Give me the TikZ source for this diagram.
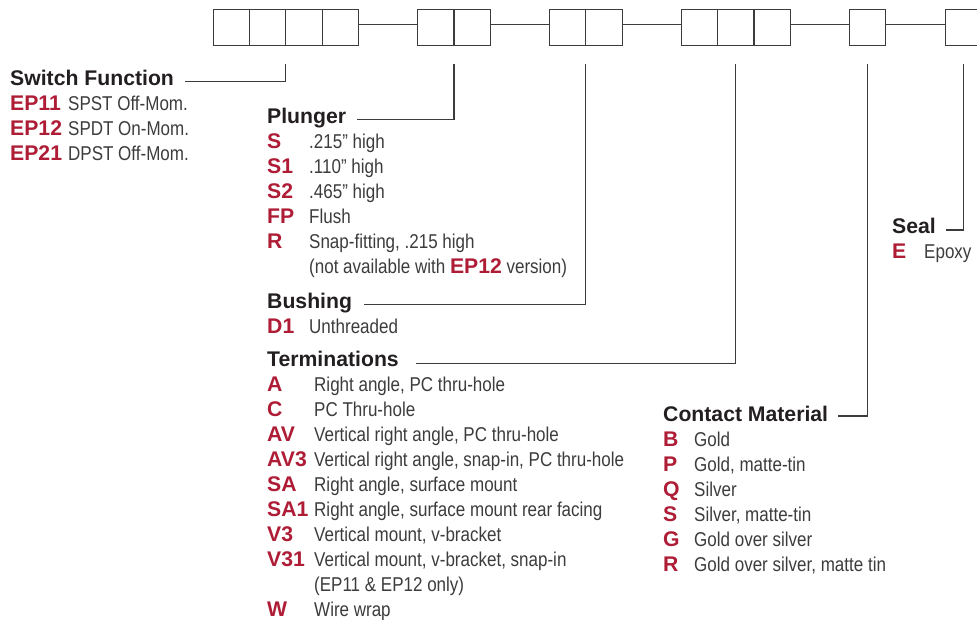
\documentclass[tikz,border=0pt]{standalone}
\usepackage{fontspec}
\setmainfont{Liberation Sans}
\newfontfamily\condfont[FakeStretch=0.85]{Liberation Sans}
\usepackage{tikz}
\usetikzlibrary{positioning}
\definecolor{codered}{RGB}{174,28,54}
\definecolor{headblack}{RGB}{35,31,32}
\definecolor{descgray}{RGB}{60,60,60}
\definecolor{linegray}{RGB}{60,60,60}
\newcommand{\boldsz}[0]{\fontsize{21.2}{24}\selectfont\bfseries}
\newcommand{\textsz}[0]{\condfont\fontsize{20}{24}\selectfont}
\tikzset{
  cell/.style={draw=linegray, line width=1.1pt, minimum width=36.2pt, minimum height=36.4pt, inner sep=0pt, outer sep=0pt},
  leader/.style={draw=linegray, line width=1.1pt},
  keyhead/.style={anchor=base west, inner sep=0pt, font=\boldsz, text=headblack},
  keycode/.style={anchor=base west, inner sep=0pt, font=\boldsz, text=codered},
  keytext/.style={anchor=base west, inner sep=0pt, font=\textsz, text=descgray}
}

\begin{document}
\begin{tikzpicture}[x=1pt, y=-1pt]
\useasboundingbox (0,0) rectangle (977,619);
% part number boxes
\node[cell] (a1) at (231.6,27.5) {};
\node[cell, right=0pt of a1] (a2) {};
\node[cell, right=0pt of a2] (a3) {};
\node[cell, right=0pt of a3] (a4) {};
\node[cell, right=59.5pt of a4] (b1) {};
\node[cell, right=0pt of b1] (b2) {};
\node[cell, right=59.5pt of b2] (c1) {};
\node[cell, right=0pt of c1] (c2) {};
\node[cell, right=59.5pt of c2] (d1) {};
\node[cell, right=0pt of d1] (d2) {};
\node[cell, right=0pt of d2] (d3) {};
\node[cell, right=59.5pt of d3] (e1) {};
\node[cell, right=59.5pt of e1] (f1) {};
\draw[leader] ([yshift=3pt]a4.east) -- ([yshift=3pt]b1.west);
\draw[leader] ([yshift=3pt]b2.east) -- ([yshift=3pt]c1.west);
\draw[leader] ([yshift=3pt]c2.east) -- ([yshift=3pt]d1.west);
\draw[leader] ([yshift=3pt]d3.east) -- ([yshift=3pt]e1.west);
\draw[leader] ([yshift=3pt]e1.east) -- ([yshift=3pt]f1.west);

% switch function
\node[keyhead] (hSwitch) at (10,85) {Switch Function};
\node[keycode] (fEP11) at (10,110) {EP11};
\node[keytext] (fEP11d) at (68,110) {SPST Off-Mom.};
\node[keycode] (fEP12) at (10,135) {EP12};
\node[keytext] (fEP12d) at (68,135) {SPDT On-Mom.};
\node[keycode] (fEP21) at (10,160) {EP21};
\node[keytext] (fEP21d) at (68,160) {DPST Off-Mom.};

% plunger
\node[keyhead] (hPlunger) at (267,123) {Plunger};
\node[keycode] (pS) at (267,148) {S};
\node[keytext] (pSd) at (309,148) {.215” high};
\node[keycode] (pS1) at (267,173) {S1};
\node[keytext] (pS1d) at (309,173) {.110” high};
\node[keycode] (pS2) at (267,198) {S2};
\node[keytext] (pS2d) at (309,198) {.465” high};
\node[keycode] (pFP) at (267,223) {FP};
\node[keytext] (pFPd) at (309,223) {Flush};
\node[keycode] (pR) at (267,248) {R};
\node[keytext] (pRd) at (309,248) {Snap-fitting, .215 high};
\node[keytext] (pRn) at (309,273) {(not available with {\normalfont\boldsz\color{codered}EP12} version)};

% bushing
\node[keyhead] (hBushing) at (267,308) {Bushing};
\node[keycode] (bD1) at (267,333) {D1};
\node[keytext] (bD1d) at (309,333) {Unthreaded};

% terminations
\node[keyhead] (hTerm) at (267,366) {Terminations};
\node[keycode] (tA) at (267,391) {A};
\node[keytext] (tAd) at (314,391) {Right angle, PC thru-hole};
\node[keycode] (tC) at (267,416) {C};
\node[keytext] (tCd) at (314,416) {PC Thru-hole};
\node[keycode] (tAV) at (267,441) {AV};
\node[keytext] (tAVd) at (314,441) {Vertical right angle, PC thru-hole};
\node[keycode] (tAV3) at (267,466) {AV3};
\node[keytext] (tAV3d) at (314,466) {Vertical right angle, snap-in, PC thru-hole};
\node[keycode] (tSA) at (267,491) {SA};
\node[keytext] (tSAd) at (314,491) {Right angle, surface mount};
\node[keycode] (tSA1) at (267,516) {SA1};
\node[keytext] (tSA1d) at (314,516) {Right angle, surface mount rear facing};
\node[keycode] (tV3) at (267,541) {V3};
\node[keytext] (tV3d) at (314,541) {Vertical mount, v-bracket};
\node[keycode] (tV31) at (267,566) {V31};
\node[keytext] (tV31d) at (314,566) {Vertical mount, v-bracket, snap-in};
\node[keytext] (tV31n) at (314,591) {(EP11 \& EP12 only)};
\node[keycode] (tW) at (267,616) {W};
\node[keytext] (tWd) at (314,616) {Wire wrap};

% contact material
\node[keyhead] (hContact) at (663,421) {Contact Material};
\node[keycode] (mB) at (663,446) {B};
\node[keytext] (mBd) at (694,446) {Gold};
\node[keycode] (mP) at (663,471) {P};
\node[keytext] (mPd) at (694,471) {Gold, matte-tin};
\node[keycode] (mQ) at (663,496) {Q};
\node[keytext] (mQd) at (694,496) {Silver};
\node[keycode] (mS) at (663,521) {S};
\node[keytext] (mSd) at (694,521) {Silver, matte-tin};
\node[keycode] (mG) at (663,546) {G};
\node[keytext] (mGd) at (694,546) {Gold over silver};
\node[keycode] (mR) at (663,571) {R};
\node[keytext] (mRd) at (694,571) {Gold over silver, matte tin};

% seal
\node[keyhead] (hSeal) at (892,233) {Seal};
\node[keycode] (sE) at (892,258) {E};
\node[keytext] (sEd) at (924,258) {Epoxy};

% leaders from boxes to headings
\draw[leader] ([yshift=-18pt]a2.south east) |- ([xshift=11pt,yshift=3.5pt]hSwitch.base east);
\draw[leader] ([yshift=-18pt]b1.south east) |- ([xshift=11pt,yshift=3.5pt]hPlunger.base east);
\draw[leader] ([yshift=-18pt]c1.south east) |- ([xshift=12pt,yshift=3.5pt]hBushing.base east);
\draw[leader] ([yshift=-18pt]d2.south) |- ([xshift=17pt,yshift=2.5pt]hTerm.base east);
\draw[leader] ([yshift=-18pt]e1.south) |- ([xshift=10pt,yshift=5pt]hContact.base east);
\draw[leader] ([yshift=-18pt]f1.south) |- ([xshift=10pt,yshift=3pt]hSeal.base east);
\end{tikzpicture}
\end{document}
